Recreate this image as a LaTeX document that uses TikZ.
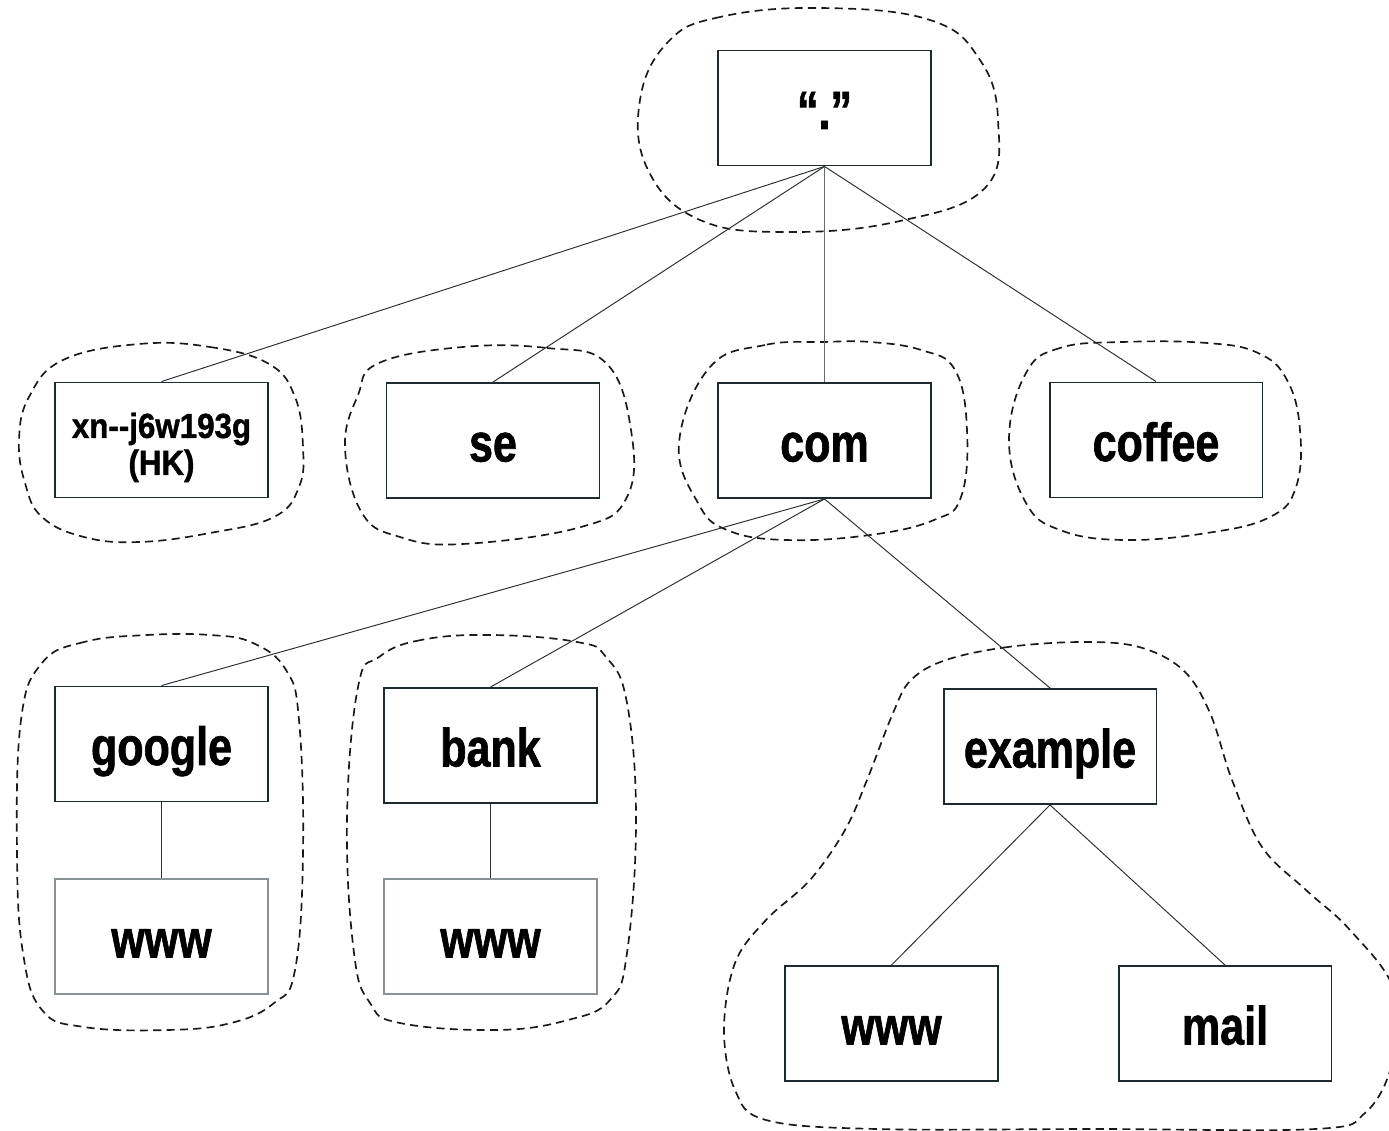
\documentclass[tikz,border=0pt]{standalone}
\usepackage{fontspec}
\newfontfamily\labf{Liberation Sans}[FakeStretch=0.8,FakeBold=1.2]
\newfontfamily\labs{Liberation Sans}[FakeStretch=0.9,FakeBold=1.2]
\definecolor{boxline}{HTML}{1E2A2E}
\definecolor{lightline}{HTML}{8A9194}
\definecolor{conn}{HTML}{2A2F31}
\tikzset{
  dnsbox/.style={draw=boxline, line width=1.1pt, fill=white, minimum width=4.26cm, minimum height=2.3cm, inner sep=0pt, align=center, text height=0.84cm, text depth=0pt, font=\labf\bfseries\fontsize{30.6}{30.6}\selectfont},
  leafbox/.style={dnsbox, draw=lightline, line width=0.7pt},
  twoline/.style={text height=, text depth=, font=\labs\bfseries\fontsize{19.8}{21}\selectfont},
  conline/.style={draw=conn, line width=0.55pt},
  zone/.style={draw=black!90, line width=0.95pt, dash pattern=on 4.6pt off 3pt, line join=round}
}
\begin{document}
\begin{tikzpicture}[x=0.02cm,y=-0.02cm]
\useasboundingbox (0,0) rectangle (1389,1131);
\clip (0,0) rectangle (1389,1131);
% zones
\draw[zone] plot[smooth cycle, tension=0.7] coordinates {(820,8) (720,17) (668,42) (640,100) (648,170) (700,220) (790,232) (900,221) (985,188) (998,120) (980,60) (930,20)};
\draw[zone] plot[smooth cycle, tension=0.7] coordinates {(139,344) (210,347) (269,364) (295,397) (303,447) (299,487) (274,517) (210,533) (139,542) (84,537) (42,517) (25,483) (19,440) (29,397) (63,360)};
\draw[zone] plot[smooth cycle, tension=0.7] coordinates {(463,347) (547,348) (606,363) (631,430) (627,497) (581,527) (463,544) (400,537) (362,513) (345,447) (358,395) (379,363)};
\draw[zone] plot[smooth cycle, tension=0.7] coordinates {(824,342) (765,345) (710,367) (679,443) (698,503) (727,530) (786,540) (870,535) (934,520) (961,497) (967,430) (955,370) (921,350) (870,342)};
\draw[zone] plot[smooth cycle, tension=0.7] coordinates {(1123,342) (1060,348) (1026,373) (1009,440) (1026,503) (1060,530) (1123,540) (1207,533) (1270,517) (1296,487) (1300,430) (1287,380) (1258,353) (1207,343)};
\draw[zone] plot[smooth cycle, tension=0.7] coordinates {(147,635) (84,642) (42,663) (21,720) (17,853) (23,953) (42,1010) (84,1027) (168,1030) (231,1023) (274,1003) (295,970) (303,853) (299,720) (286,670) (253,643) (210,635)};
\draw[zone] plot[smooth cycle, tension=0.7] coordinates {(492,635) (421,640) (379,657) (358,687) (347,820) (354,953) (370,1003) (400,1023) (497,1030) (568,1020) (610,1000) (627,953) (636,820) (627,703) (606,657) (577,642)};
\draw[zone] plot[smooth cycle, tension=0.6] coordinates {(1082,642) (1008,647) (946,660) (911,680) (893,713) (867,780) (845,830) (810,880) (766,920) (735,963) (724,1030) (735,1090) (766,1120) (876,1129) (1095,1129) (1315,1129) (1365,1113) (1392,1063) (1394,990) (1350,930) (1306,890) (1262,847) (1232,780) (1210,713) (1183,670) (1139,647)};
% boxes
\node[dnsbox] (root) at (824.5,108) {“.”};
\node[dnsbox, twoline] (xn) at (161.5,440) {\rule{0pt}{0.8cm}xn--j6w193g\\(HK)};
\node[dnsbox] (se) at (493,440.5) {se};
\node[dnsbox] (com) at (824.5,440.5) {com};
\node[dnsbox] (coffee) at (1156,440) {coffee};
\node[dnsbox] (google) at (161.5,744) {google};
\node[dnsbox] (bank) at (490.5,745.5) {bank};
\node[leafbox] (wwwg) at (161.5,936.5) {www};
\node[leafbox] (wwwb) at (490.5,936.5) {www};
\node[dnsbox] (example) at (1050,746.5) {example};
\node[dnsbox] (wwwe) at (891.5,1023.5) {www};
\node[dnsbox] (mail) at (1225,1023.5) {mail};
% connectors
\draw[conline] (root.south) -- (xn.north);
\draw[conline] (root.south) -- (se.north);
\draw[conline, draw=conn!70, line width=0.8pt] (root.south) -- (com.north);
\draw[conline] (root.south) -- (coffee.north);
\draw[conline] (com.south) -- (google.north);
\draw[conline] (com.south) -- (bank.north);
\draw[conline] (com.south) -- (example.north);
\draw[conline] (google.south) -- (wwwg.north);
\draw[conline] (bank.south) -- (wwwb.north);
\draw[conline] (example.south) -- (wwwe.north);
\draw[conline] (example.south) -- (mail.north);
\end{tikzpicture}
\end{document}
